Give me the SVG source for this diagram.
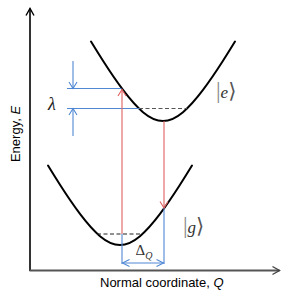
<svg xmlns="http://www.w3.org/2000/svg" width="291" height="304" viewBox="0 0 291 304">
<style>
.curve{fill:none;stroke:#000;stroke-width:2;stroke-linecap:round}
.red{fill:none;stroke:#e06060;stroke-width:1.1}
.blue{fill:none;stroke:#5088d4;stroke-width:1.1}
.dash{fill:none;stroke:#555;stroke-width:1.2;stroke-dasharray:4 2.5}
.sans{font-family:"Liberation Sans",Arial,sans-serif;font-size:13px;fill:#000}
</style>
<defs>
<marker id="mRed" viewBox="-8 -5 10 10" refX="0" refY="0" markerWidth="10" markerHeight="10" markerUnits="userSpaceOnUse" orient="auto"><path d="M-6.5,-4 L0,0 L-6.5,4" fill="none" stroke="#e06060" stroke-width="1.1"/></marker>
<marker id="mBlue" viewBox="-8 -5 10 10" refX="0" refY="0" markerWidth="10" markerHeight="10" markerUnits="userSpaceOnUse" orient="auto"><path d="M-6.5,-4 L0,0 L-6.5,4" fill="none" stroke="#5088d4" stroke-width="1.1"/></marker>
<marker id="mBlueS" viewBox="-8 -5 10 10" refX="0" refY="0" markerWidth="10" markerHeight="10" markerUnits="userSpaceOnUse" orient="auto-start-reverse"><path d="M-7,-3.5 L0,0 L-7,3.5" fill="none" stroke="#5088d4" stroke-width="1.1"/></marker>
<marker id="mAxY" viewBox="-9 -6 11 12" refX="0" refY="0" markerWidth="11" markerHeight="12" markerUnits="userSpaceOnUse" orient="auto"><path d="M-7,-4 L0,0 L-7,4" fill="none" stroke="#000" stroke-width="1.4"/></marker>
<marker id="mAxX" viewBox="-9 -6 11 12" refX="0" refY="0" markerWidth="11" markerHeight="12" markerUnits="userSpaceOnUse" orient="auto"><path d="M-7,-4 L0,0 L-7,4" fill="none" stroke="#444" stroke-width="1.4"/></marker>
</defs>
<g id="axes">
<line x1="30" y1="271" x2="30" y2="8.5" stroke="#000" stroke-width="1.6" marker-end="url(#mAxY)"/>
<line x1="29.5" y1="270.5" x2="279.5" y2="270.5" stroke="#555" stroke-width="2" marker-end="url(#mAxX)"/>
<text class="sans" transform="translate(20,134) rotate(-90)" text-anchor="middle">Energy, <tspan font-style="italic">E</tspan></text>
<text class="sans" x="100" y="287">Normal coordinate, <tspan font-style="italic">Q</tspan></text>
</g>
<g id="excited-state">
<path class="curve" d="M91,41.6 Q96.97,51.38 103,60.79 Q114.17,78.22 123,89.93 Q134.19,104.76 143,112.15 Q153.55,121 163,121 Q172.45,121 183,112.15 Q191.81,104.76 203,89.93 Q211.83,78.22 223,60.79 Q229.03,51.38 235,41.6"/>
<text x="216" y="97.5" style="font-family:'Liberation Serif','DejaVu Serif',serif" fill="#333"><tspan font-size="23" fill="#888">|</tspan><tspan font-size="17" font-style="italic">e</tspan><tspan font-size="21" fill="#555">⟩</tspan></text>
</g>
<g id="ground-state">
<path class="curve" d="M48,165.6 Q53.97,175.38 60,184.79 Q71.17,202.22 80,213.93 Q91.19,228.76 100,236.15 Q110.55,245 120,245 Q129.45,245 140,236.15 Q148.81,228.76 160,213.93 Q168.83,202.22 180,184.79 Q186.03,175.38 192,165.6"/>
<text x="183" y="232.5" style="font-family:'Liberation Serif','DejaVu Serif',serif" fill="#333"><tspan font-size="23" fill="#888">|</tspan><tspan font-size="17" font-style="italic">g</tspan><tspan font-size="21" fill="#555">⟩</tspan></text>
</g>
<g id="connectors">
<line class="dash" x1="139" y1="108.5" x2="187" y2="108.5"/>
<line class="dash" x1="97" y1="234" x2="143" y2="234" style="stroke:#222"/>
<line class="blue" x1="67" y1="88.5" x2="121.5" y2="88.5"/>
<line class="blue" x1="67" y1="108.5" x2="139.5" y2="108.5"/>
<line class="blue" x1="73" y1="61" x2="73" y2="88.5" marker-end="url(#mBlue)"/>
<line class="blue" x1="73" y1="136" x2="73" y2="108.5" marker-end="url(#mBlue)"/>
<line class="blue" x1="122" y1="234" x2="122" y2="264"/>
<line class="blue" x1="164" y1="208" x2="164" y2="264"/>
<line class="blue" x1="122.5" y1="263" x2="163.5" y2="263" marker-start="url(#mBlueS)" marker-end="url(#mBlueS)"/>
<line class="red" x1="122" y1="234" x2="122" y2="89.5" marker-end="url(#mRed)"/>
<line class="red" x1="164" y1="121" x2="164" y2="208" marker-end="url(#mRed)"/>
</g>
<g id="labels">
<text x="48" y="110" font-size="18" font-style="italic" style="font-family:'Liberation Serif','DejaVu Serif',serif" fill="#222">λ</text>
<text x="135.5" y="255" font-size="15" style="font-family:'Liberation Serif','DejaVu Serif',serif" fill="#333">Δ<tspan font-size="10" font-style="italic" dy="3.5">Q</tspan></text>
</g>
</svg>
